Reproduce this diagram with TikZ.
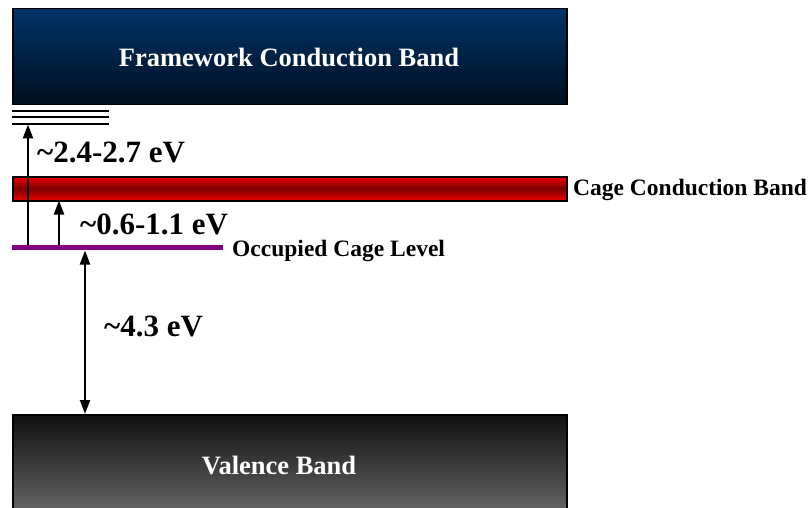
\documentclass[tikz,border=0pt]{standalone}
\usepackage{fontspec}
\setmainfont{Liberation Serif}
\usetikzlibrary{arrows.meta}
\definecolor{fwtop}{RGB}{0,52,104}
\definecolor{fwbot}{RGB}{0,14,32}
\definecolor{vbtop}{RGB}{16,16,16}
\definecolor{vbbot}{RGB}{110,110,110}
\definecolor{cagered}{RGB}{240,0,0}
\definecolor{cagedark}{RGB}{125,0,0}
\definecolor{occpurple}{RGB}{128,0,128}
\begin{document}
\begin{tikzpicture}[x=1pt,y=-1pt,
  band/.style={draw=black, line width=1.5pt, minimum width=554pt, inner sep=0pt,
    anchor=north west, text=white, font=\bfseries\fontsize{26.5}{30}\selectfont},
  level/.style={line width=2pt, black},
  tip/.style={-{Triangle[length=14pt,width=10pt]}, line width=2.2pt},
  biarrow/.style={{Triangle[length=14pt,width=10pt]}-{Triangle[length=14pt,width=10pt]}, line width=2.2pt},
  gap/.style={anchor=base west, inner sep=0pt, font=\bfseries\fontsize{31}{34}\selectfont},
  side/.style={anchor=base west, inner sep=0pt, font=\bfseries\fontsize{23.5}{26}\selectfont}
]
\useasboundingbox (0,0) rectangle (811,508);

% framework conduction band
\node[band, minimum height=96pt, top color=fwtop, bottom color=fwbot] (fcb) at (12,8) {};
\node[text=white, font=\bfseries\fontsize{26.5}{30}\selectfont] (fcbl) at (289,57) {Framework Conduction Band};

% valence band (runs off the bottom edge)
\node[band, minimum height=108pt, top color=vbtop, bottom color=vbbot] (vb) at (12,414) {};
\node[text=white, font=\bfseries\fontsize{26.5}{30}\selectfont] (vbl) at (279,466) {Valence Band};

% three closely spaced levels under the framework band
\draw[level] (12,111) coordinate (t1a) -- (109,111) coordinate (t1b);
\draw[level] (12,117.3) coordinate (t2a) -- (109,117.3) coordinate (t2b);
\draw[level] (12,123.6) coordinate (t3a) -- (109,123.6) coordinate (t3b);

% cage conduction band
\node[draw=black, line width=1.5pt, minimum width=554pt, minimum height=24pt, inner sep=0pt,
  anchor=north west, top color=cagered, bottom color=cagered, middle color=cagedark] (ccb) at (12,176) {};
\node[side, anchor=base west] (ccbl) at (573,195.5) {Cage Conduction Band};

% transitions
\coordinate (a1s) at (28,247);
\coordinate (a1e) at (28,124.5);
\coordinate (a2s) at (59,247);
\coordinate (a2e) at (59,200.5);
\coordinate (a3s) at (85,250.5);
\coordinate (a3e) at (85,414);
\draw[tip] (a1s) -- (a1e);
\draw[tip] (a2s) -- (a2e);
\draw[biarrow] (a3s) -- (a3e);

% occupied cage level
\draw[line width=5pt, occpurple] (12,247.5) coordinate (occA) -- (223,247.5) coordinate (occB);
\node[side] (occl) at (232,256.5) {Occupied Cage Level};

% gap labels
\node[gap] (g1) at (37,162) {\textasciitilde2.4-2.7 eV};
\node[gap] (g2) at (80,234) {\textasciitilde0.6-1.1 eV};
\node[gap] (g3) at (104,336) {\textasciitilde4.3 eV};
\end{tikzpicture}
\end{document}
